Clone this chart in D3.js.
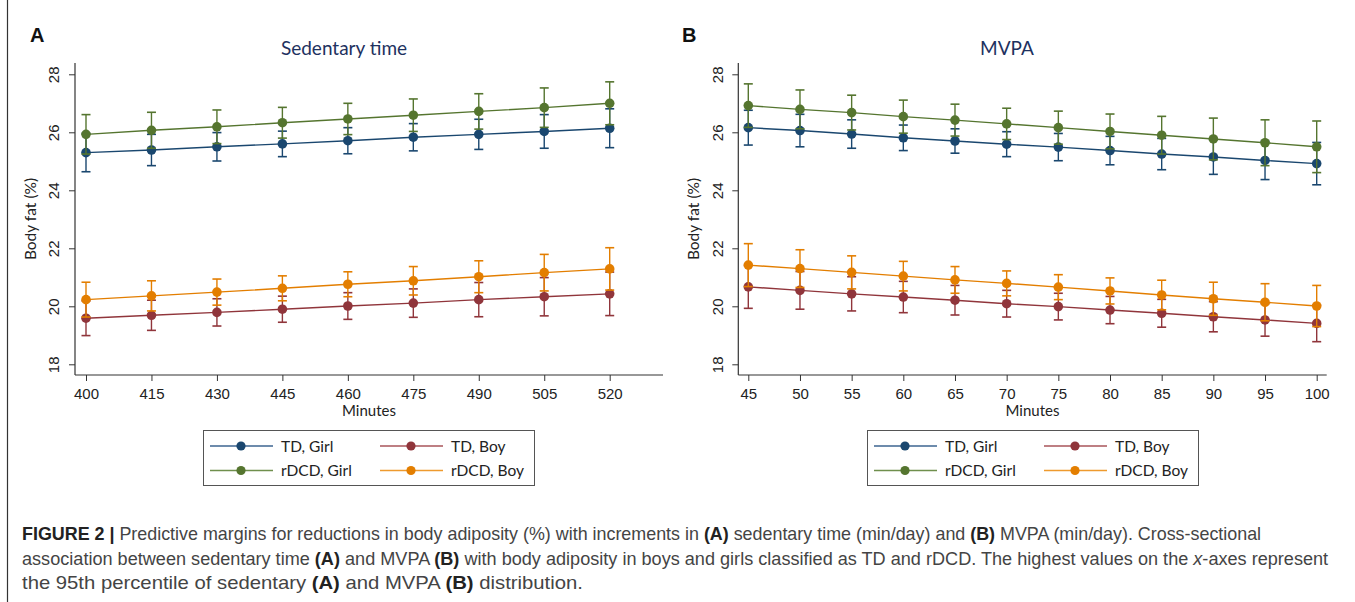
<!DOCTYPE html>
<html>
<head>
<meta charset="utf-8">
<script src="https://cdn.jsdelivr.net/npm/d3@7"></script>
<style>
  body { margin: 0; background: #fff; }
  svg { display: block; font-family: Lato, "Open Sans", sans-serif; }
</style>
</head>
<body>
<svg id="chart" width="1355" height="602"></svg>
<script>
// ---- data ----
const seriesNames = ["TD, Girl", "TD, Boy", "rDCD, Girl", "rDCD, Boy"];
const seriesColors = ["#1a476f", "#90353b", "#55752f", "#e37e00"];
const legendColors = ["#3d6590", "#a8545a", "#6f8f4d", "#ee9a2e"];

// panel A: sedentary time
const minutesA = [400, 415, 430, 445, 460, 475, 490, 505, 520];
const tdGirlA   = [25.30, 25.39, 25.50, 25.60, 25.71, 25.83, 25.93, 26.03, 26.14];
const tdGirlCiA = [0.66, 0.54, 0.49, 0.44, 0.45, 0.47, 0.52, 0.58, 0.67];
const tdBoyA    = [19.59, 19.69, 19.79, 19.90, 20.01, 20.11, 20.23, 20.33, 20.43];
const tdBoyCiA  = [0.60, 0.52, 0.47, 0.45, 0.46, 0.49, 0.59, 0.66, 0.75];
const dcdGirlA   = [25.93, 26.07, 26.19, 26.33, 26.46, 26.59, 26.72, 26.85, 27.00];
const dcdGirlCiA = [0.68, 0.62, 0.58, 0.53, 0.54, 0.56, 0.61, 0.68, 0.74];
const dcdBoyA    = [20.23, 20.36, 20.49, 20.62, 20.76, 20.88, 21.02, 21.16, 21.29];
const dcdBoyCiA  = [0.60, 0.52, 0.45, 0.43, 0.43, 0.49, 0.55, 0.63, 0.73];

// panel B: MVPA
const minutesB = [45, 50, 55, 60, 65, 70, 75, 80, 85, 90, 95, 100];
const tdGirlB   = [26.16, 26.06, 25.94, 25.81, 25.70, 25.59, 25.49, 25.37, 25.25, 25.15, 25.03, 24.92];
const tdGirlCiB = [0.60, 0.56, 0.49, 0.44, 0.42, 0.43, 0.47, 0.49, 0.54, 0.60, 0.66, 0.73];
const tdBoyB    = [20.67, 20.55, 20.43, 20.32, 20.21, 20.09, 19.99, 19.87, 19.76, 19.64, 19.53, 19.41];
const tdBoyCiB  = [0.74, 0.65, 0.59, 0.54, 0.51, 0.46, 0.46, 0.47, 0.48, 0.52, 0.56, 0.63];
const dcdGirlB   = [26.92, 26.79, 26.68, 26.54, 26.42, 26.29, 26.16, 26.03, 25.90, 25.77, 25.64, 25.50];
const dcdGirlCiB = [0.75, 0.67, 0.60, 0.57, 0.55, 0.54, 0.57, 0.60, 0.65, 0.72, 0.79, 0.89];
const dcdBoyB    = [21.42, 21.30, 21.17, 21.04, 20.91, 20.79, 20.66, 20.53, 20.39, 20.26, 20.14, 20.01];
const dcdBoyCiB  = [0.74, 0.65, 0.57, 0.51, 0.46, 0.43, 0.43, 0.45, 0.51, 0.57, 0.64, 0.71];

const yTicks = [18, 20, 22, 24, 26, 28];

const svg = d3.select("#chart");

// page border on the left
svg.append("line").attr("x1", 7.5).attr("x2", 7.5).attr("y1", 0).attr("y2", 602)
    .attr("stroke", "#333").attr("stroke-width", 1.2);

const drawPanel = (p) => {
    const x = d3.scaleLinear().domain(p.xDomain).range(p.xRange);
    const y = d3.scaleLinear().domain([18, 28]).range([364.3, 74.3]);
    const g = svg.append("g");

    // axes
    const yAxis = g.append("g").attr("transform", `translate(${p.left},0)`)
        .call(d3.axisLeft(y).tickValues(yTicks).tickSize(6));
    yAxis.select(".domain").remove();
    yAxis.selectAll(".tick line").attr("stroke", "#333");
    yAxis.selectAll(".tick text")
        .attr("font-size", 15).attr("fill", "#222").attr("font-family", null)
        .attr("x", 0).attr("y", 0).attr("dy", "0.35em").attr("text-anchor", "middle")
        .attr("transform", "translate(-21,0) rotate(-90)");
    g.append("line").attr("x1", p.left).attr("x2", p.left).attr("y1", 63).attr("y2", 375)
        .attr("stroke", "#333").attr("stroke-width", 1.2);

    const xAxis = g.append("g").attr("transform", "translate(0,375)")
        .call(d3.axisBottom(x).tickValues(p.minutes).tickSize(6).tickPadding(7));
    xAxis.select(".domain").remove();
    xAxis.selectAll(".tick line").attr("stroke", "#333");
    xAxis.selectAll(".tick text").attr("font-size", 15).attr("fill", "#222").attr("font-family", null);
    g.append("line").attr("x1", p.left).attr("x2", p.right).attr("y1", 375).attr("y2", 375)
        .attr("stroke", "#333").attr("stroke-width", 1.2);

    g.append("text").attr("x", (p.left + p.right) / 2).attr("y", 416)
        .attr("text-anchor", "middle").attr("font-size", 15).attr("fill", "#222").text("Minutes");
    g.append("text").attr("transform", `translate(${p.left - 39},219) rotate(-90)`)
        .attr("text-anchor", "middle").attr("font-size", 15.5).attr("fill", "#222").text("Body fat (%)");

    // title and panel letter
    g.append("text").attr("x", p.titleX).attr("y", 55).attr("text-anchor", "middle")
        .attr("font-size", 19).attr("fill", "#1e3160").text(p.title);
    g.append("text").attr("x", p.letterX).attr("y", 42).attr("font-size", 20)
        .attr("font-weight", "bold").attr("font-family", "'Liberation Sans', Arial, sans-serif")
        .attr("fill", "#111").text(p.letter);

    // series: TD girl, TD boy, rDCD girl, rDCD boy
    p.series.forEach((s, i) => {
        const col = seriesColors[i];
        const pts = p.minutes.map((m, j) => ({m, v: s.est[j], h: s.ci[j]}));
        const sg = g.append("g");
        pts.forEach(d => {
            const cx = x(d.m);
            sg.append("line").attr("x1", cx).attr("x2", cx)
                .attr("y1", y(d.v - d.h)).attr("y2", y(d.v + d.h))
                .attr("stroke", col).attr("stroke-width", 1.4);
            [d.v - d.h, d.v + d.h].forEach(e => {
                sg.append("line").attr("x1", cx - 4.5).attr("x2", cx + 4.5)
                    .attr("y1", y(e)).attr("y2", y(e))
                    .attr("stroke", col).attr("stroke-width", 1.6);
            });
        });
        sg.append("path").datum(pts)
            .attr("d", d3.line().x(d => x(d.m)).y(d => y(d.v)))
            .attr("fill", "none").attr("stroke", col).attr("stroke-width", 1.4);
        sg.selectAll("circle").data(pts).join("circle")
            .attr("cx", d => x(d.m)).attr("cy", d => y(d.v)).attr("r", 4.8)
            .attr("fill", col);
    });

    // legend
    const lg = g.append("g");
    lg.append("rect").attr("x", p.legX + 0.5).attr("y", 430.5).attr("width", 331).attr("height", 55)
        .attr("fill", "#fff").attr("stroke", "#555").attr("stroke-width", 1);
    const slots = [
        {i: 0, col: 0, row: 0}, {i: 1, col: 1, row: 0},
        {i: 2, col: 0, row: 1}, {i: 3, col: 1, row: 1}
    ];
    slots.forEach(sl => {
        const lx = p.legX + 7 + sl.col * 170;
        const ly = 446 + sl.row * 24.5;
        lg.append("line").attr("x1", lx).attr("x2", lx + 63).attr("y1", ly).attr("y2", ly)
            .attr("stroke", legendColors[sl.i]).attr("stroke-width", 1.6);
        lg.append("circle").attr("cx", lx + 31).attr("cy", ly).attr("r", 4.6)
            .attr("fill", seriesColors[sl.i]);
        lg.append("text").attr("x", lx + 71).attr("y", ly + 5.5).attr("font-size", 15.5)
            .attr("fill", "#222").text(seriesNames[sl.i]);
    });
};

drawPanel({
    letter: "A", letterX: 30, title: "Sedentary time", titleX: 344,
    left: 75, right: 663, xDomain: [400, 520], xRange: [86, 609.7],
    minutes: minutesA, legX: 203,
    series: [
        {est: tdGirlA, ci: tdGirlCiA}, {est: tdBoyA, ci: tdBoyCiA},
        {est: dcdGirlA, ci: dcdGirlCiA}, {est: dcdBoyA, ci: dcdBoyCiA}
    ]
});
drawPanel({
    letter: "B", letterX: 682, title: "MVPA", titleX: 1007,
    left: 738.3, right: 1326.7, xDomain: [45, 100], xRange: [748.3, 1316.7],
    minutes: minutesB, legX: 867,
    series: [
        {est: tdGirlB, ci: tdGirlCiB}, {est: tdBoyB, ci: tdBoyCiB},
        {est: dcdGirlB, ci: dcdGirlCiB}, {est: dcdBoyB, ci: dcdBoyCiB}
    ]
});

// caption (condensed look: larger font squeezed to the measured line widths)
const captionLines = [
    {y: 540, w: 1240, parts: [["FIGURE 2 |", "b"], [" Predictive margins for reductions in body adiposity (%) with increments in ", ""],
        ["(A)", "b"], [" sedentary time (min/day) and ", ""], ["(B)", "b"], [" MVPA (min/day). Cross-sectional", ""]]},
    {y: 565, w: 1307, parts: [["association between sedentary time ", ""], ["(A)", "b"], [" and MVPA ", ""], ["(B)", "b"],
        [" with body adiposity in boys and girls classified as TD and rDCD. The highest values on the ", ""],
        ["x", "i"], ["-axes represent", ""]]},
    {y: 589, w: 561, parts: [["the 95th percentile of sedentary ", ""], ["(A)", "b"], [" and MVPA ", ""], ["(B)", "b"],
        [" distribution.", ""]]}
];
captionLines.forEach(line => {
    const t = svg.append("text").attr("x", 0).attr("y", 0)
        .attr("font-family", "'Liberation Sans', Arial, sans-serif")
        .attr("font-size", 18.5).attr("fill", "#444").attr("xml:space", "preserve");
    line.parts.forEach(([s, st]) => {
        const ts = t.append("tspan").text(s);
        if (st === "b") ts.attr("font-weight", "bold").attr("fill", "#222");
        if (st === "i") ts.attr("font-style", "italic");
    });
    const w = t.node().getComputedTextLength();
    t.attr("transform", `translate(22,${line.y}) scale(${line.w / w},1)`);
});
</script>
</body>
</html>
